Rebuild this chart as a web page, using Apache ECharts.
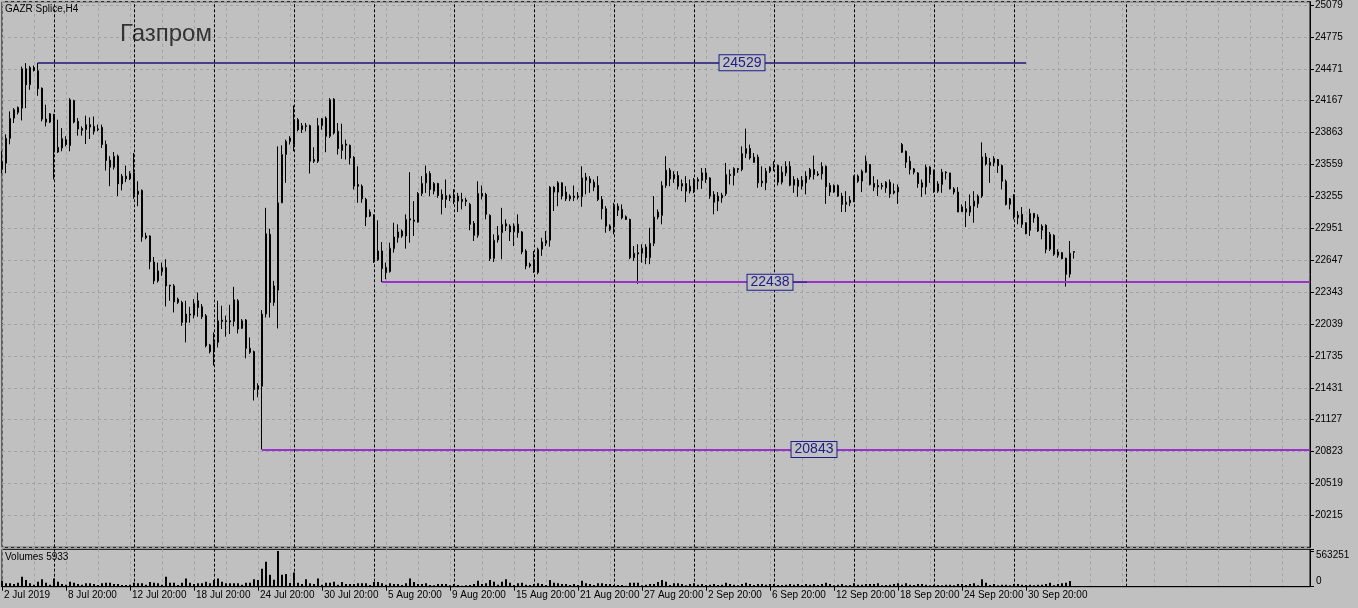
<!DOCTYPE html>
<html><head><meta charset="utf-8">
<script src="https://cdn.jsdelivr.net/npm/echarts@6/dist/echarts.min.js"></script>
<style>html,body{margin:0;padding:0;background:#c0c0c0;overflow:hidden}#c{width:1358px;height:608px}</style>
</head><body><div id="c"></div>
<script>
// ---------------- DATA ----------------
const opens = [
23514,23571,23808,24001,24055,24096,24471,24319,24483,24452,
24286,23992,23963,24034,23678,23716,23796,23739,24167,23970,
23901,23891,23939,23922,23897,23913,23749,23600,23533,23638,
23374,23448,23422,23479,23274,23312,22878,22878,22630,22450,
22538,22576,22409,22402,22244,22244,22054,22124,22124,22260,
22203,22117,21839,21792,21864,22077,22070,22070,22063,22260,
21997,22077,21807,21776,21415,21446,22134,22894,22244,22362,
23194,23654,23780,23749,23986,23891,23929,23929,23606,23590,
23929,24001,23828,24182,23875,23692,23754,23742,23628,23369,
23352,23226,23068,23068,22650,22735,22576,22538,22757,22861,
22925,22878,23042,23030,23010,23283,23384,23473,23305,23378,
23274,23226,23258,23236,23258,23226,23220,23179,22998,22884,
23283,23274,23074,22662,22840,22909,22994,22972,22918,22989,
22916,22735,22609,22640,22529,22751,22808,22837,23343,23296,
23384,23296,23232,23258,23258,23251,23438,23422,23390,23359,
23226,23137,22972,22972,23162,23131,23061,23036,22671,22719,
22713,22773,22671,22808,23058,23074,23359,23505,23422,23454,
23352,23378,23305,23321,23416,23407,23416,23431,23274,23210,
23241,23279,23464,23454,23521,23511,23663,23711,23628,23628,
23400,23384,23495,23549,23549,23390,23479,23542,23362,23410,
23352,23384,23441,23511,23469,23469,23542,23359,23296,23359,
23258,23179,23194,23220,23448,23400,23486,23559,23378,23359,
23359,23336,23390,23305,23296,23749,23685,23590,23517,23479,
23384,23346,23533,23502,23305,23369,23486,23479,23327,23296,
23109,23137,23106,23162,23184,23258,23631,23549,23574,23606,
23549,23400,23179,23248,23051,23084,23004,22932,23093,23058,
22932,22979,22751,22884,22694,22719,22666,22514,22722];
const closes = [
23590,23808,23998,24081,24103,24471,24319,24483,24455,24281,
23992,23963,24043,23678,23723,23806,23749,24176,23963,23897,
23885,23939,23916,23875,23891,23749,23597,23533,23638,23374,
23448,23422,23473,23274,23305,22868,22861,22633,22450,22545,
22576,22402,22402,22250,22276,22054,22134,22134,22234,22196,
22108,21832,21776,21864,22070,22063,22063,22058,22270,21991,
22070,21807,21769,21415,21453,22134,22899,22244,22402,23194,
23654,23780,23811,23986,23891,23929,23922,23590,23590,23929,
23996,23828,24176,23859,23711,23749,23742,23621,23352,23352,
23232,23058,23106,22650,22735,22567,22529,22761,22868,22916,
22878,23036,23030,23017,23283,23378,23473,23321,23378,23264,
23226,23264,23241,23258,23210,23207,23207,22989,22884,23283,
23258,23084,22662,22837,22884,22989,22972,22916,22972,22909,
22726,22592,22592,22545,22751,22820,22837,23343,23296,23384,
23258,23232,23258,23245,23248,23431,23410,23384,23343,23226,
23137,22972,22941,23169,23124,23051,23036,22671,22713,22706,
22761,22671,22808,23058,23106,23359,23505,23422,23464,23352,
23378,23305,23352,23400,23400,23479,23479,23258,23200,23258,
23267,23464,23454,23521,23511,23663,23711,23621,23580,23384,
23384,23495,23533,23536,23390,23486,23542,23362,23416,23352,
23410,23448,23511,23464,23460,23542,23346,23296,23359,23258,
23179,23200,23220,23448,23400,23495,23590,23369,23343,23346,
23350,23390,23279,23289,23343,23676,23580,23511,23486,23378,
23343,23533,23464,23305,23374,23486,23479,23327,23296,23106,
23156,23106,23162,23210,23258,23631,23564,23580,23616,23549,
23400,23179,23232,23058,23077,22989,22899,23093,23051,22925,
22972,22751,22894,22704,22726,22662,22514,22713,22730];
const highs = [
23685,23846,24065,24096,24112,24492,24525,24499,24502,24529,
24293,24129,24049,24043,23986,23906,23828,24191,24176,24001,
23922,24024,24008,24017,23939,23939,23787,23638,23678,23654,
23469,23549,23495,23669,23400,23321,22909,22884,22678,22624,
22624,22656,22412,22419,22291,22260,22260,22203,22276,22339,
22229,22134,21849,21959,22260,22213,22118,22222,22393,22276,
22086,22086,21911,21785,21474,22172,23146,22947,22450,23732,
23742,23796,23828,24122,24001,23954,23954,23939,23723,24001,
24001,24017,24191,24191,23954,23948,23796,23749,23638,23542,
23369,23241,23131,23084,23027,22820,22624,22814,23004,22989,
22941,23084,23486,23210,23296,23448,23549,23495,23391,23384,
23321,23416,23274,23324,23289,23289,23241,23194,23020,23400,
23359,23289,23084,22894,22972,23146,23036,22989,22998,23084,
22925,22751,22624,22735,22766,22861,22925,23352,23352,23400,
23390,23352,23274,23359,23296,23542,23479,23448,23416,23448,
23258,23162,22989,23194,23188,23179,23074,23042,22782,22799,
22799,22799,22956,23258,23131,23400,23638,23526,23495,23495,
23416,23448,23416,23431,23438,23526,23526,23438,23305,23296,
23289,23574,23511,23533,23526,23732,23901,23749,23669,23654,
23542,23526,23542,23590,23559,23542,23590,23590,23448,23431,
23448,23495,23526,23644,23495,23580,23549,23384,23369,23369,
23289,23305,23258,23454,23464,23511,23644,23564,23448,23416,
23384,23400,23416,23378,23369,23764,23692,23638,23526,23486,
23416,23559,23542,23511,23400,23517,23495,23479,23343,23343,
23179,23210,23274,23305,23274,23770,23669,23621,23638,23612,
23559,23416,23241,23276,23115,23153,23010,23137,23093,23084,
22989,22989,22916,22894,22751,22726,22671,22830,22732];
const lows = [
23476,23476,23751,23954,24036,23979,24096,24271,24445,24214,
23970,23922,23954,23416,23669,23685,23732,23685,23951,23834,
23834,23754,23802,23844,23875,23716,23502,23352,23511,23258,
23312,23391,23410,23232,23162,22823,22846,22561,22419,22434,
22498,22206,22260,22149,22229,22022,21864,22051,22092,22108,
22086,21816,21759,21643,21816,21991,21918,21944,22016,21949,
21991,21712,21754,21310,21341,20843,22101,22101,22212,21997,
23191,23384,23749,23685,23875,23859,23875,23473,23574,23574,
23891,23676,23811,23844,23654,23612,23606,23559,23321,23194,
23194,22972,23058,22621,22640,22438,22466,22529,22719,22814,
22861,22757,22814,22878,23004,23258,23289,23258,23274,23241,
23084,23146,23210,23181,23106,23131,23162,22932,22830,22861,
23226,23036,22640,22630,22814,22656,22925,22830,22782,22861,
22704,22561,22576,22526,22513,22688,22782,22776,23115,23162,
23226,23210,23210,23210,23226,23156,23274,23289,23305,23210,
23036,22909,22925,22894,23068,23036,23030,22656,22640,22422,
22624,22609,22609,22782,23036,22989,23337,23352,23384,23321,
23305,23200,23283,23286,23321,23327,23384,23232,23084,23115,
23194,23258,23369,23359,23479,23495,23621,23606,23574,23337,
23346,23314,23479,23495,23359,23369,23448,23352,23289,23251,
23321,23274,23416,23416,23448,23416,23184,23258,23289,23251,
23106,23106,23162,23200,23384,23296,23479,23359,23305,23258,
23321,23289,23241,23274,23184,23669,23526,23464,23464,23337,
23251,23274,23384,23289,23289,23289,23416,23321,23274,23106,
23106,22963,23068,23004,23146,23241,23549,23384,23542,23479,
23321,23169,23131,23036,22989,22956,22894,22878,23004,22916,
22846,22713,22735,22688,22671,22656,22396,22481,22662];
const volumes = [
95000,53000,53000,42000,63000,158000,105000,53000,32000,79000,
116000,63000,32000,131000,79000,42000,32000,79000,63000,42000,
32000,53000,53000,42000,26000,53000,63000,63000,42000,42000,
26000,26000,32000,63000,53000,53000,32000,74000,63000,53000,
32000,158000,63000,63000,26000,63000,131000,63000,42000,53000,
53000,79000,53000,105000,131000,79000,53000,53000,53000,53000,
32000,63000,63000,116000,105000,284000,395000,190000,110000,563251,
190000,200000,60000,225000,63000,42000,116000,53000,42000,131000,
32000,63000,63000,79000,32000,74000,42000,42000,42000,53000,
53000,53000,26000,74000,74000,53000,32000,53000,42000,42000,
26000,53000,131000,74000,42000,42000,53000,26000,21000,42000,
42000,42000,21000,42000,26000,16000,21000,26000,42000,95000,
42000,53000,105000,79000,32000,79000,116000,63000,26000,53000,
63000,32000,26000,42000,53000,42000,26000,105000,63000,53000,
42000,42000,26000,42000,26000,95000,53000,42000,26000,53000,
53000,42000,42000,26000,26000,26000,16000,63000,63000,63000,
21000,32000,42000,42000,74000,105000,79000,26000,53000,53000,
42000,21000,42000,53000,32000,42000,26000,32000,42000,26000,
32000,63000,42000,32000,21000,42000,63000,42000,26000,42000,
42000,32000,42000,42000,26000,26000,32000,42000,32000,42000,
26000,42000,32000,42000,26000,42000,63000,42000,21000,32000,
42000,21000,26000,53000,32000,32000,42000,42000,42000,53000,
21000,26000,32000,42000,53000,32000,53000,32000,26000,42000,
42000,32000,21000,32000,26000,21000,32000,32000,21000,42000,
42000,26000,42000,53000,21000,116000,63000,26000,42000,21000,
32000,32000,21000,42000,42000,32000,26000,32000,21000,32000,
32000,42000,63000,21000,42000,53000,63000,89000,5933];
const tickLabels = ['2 Jul 2019','8 Jul 20:00','12 Jul 20:00','18 Jul 20:00','24 Jul 20:00','30 Jul 20:00',
  '5 Aug 20:00','9 Aug 20:00','15 Aug 20:00','21 Aug 20:00','27 Aug 20:00','2 Sep 20:00','6 Sep 20:00',
  '12 Sep 20:00','18 Sep 20:00','24 Sep 20:00','30 Sep 20:00'];
const weekSeparators = [13,33,53,73,93,113,133,153,173,193,213,233,253,281];
const levelPrices = [24529, 22438, 20843];
const levelFrom = [9, 95, 65];
const levelTo = [256, 327, 327];
const symbolName = 'GAZR Splice,H4';
const chartTitle = 'Газпром';
const volumeMax = 563251;

// ---------------- LAYOUT / STYLE ----------------
const SLOTS = 328;              // visible bar slots incl. empty future area
const LABEL_STEP = 16;
const GRID_STEP = 8;
const FONT = 'Liberation Sans, Arial, sans-serif';
const BG = '#c0c0c0';
const GRIDC = '#a2a2a2';
const levelColors = ['#483d8b', '#9932cc', '#9932cc'];
const boxColor = '#1c1c8a';
const levelLabelIdx = [185, 192, 203];

const cats = Array.from({length: SLOTS}, (_, i) => String(i));
const candles = opens.map((o, i) => [o, closes[i], lows[i], highs[i]]);

const gridSplit = {show: true, interval: (i) => i % GRID_STEP === 0,
  lineStyle: {color: GRIDC, type: [3, 3], width: 1}};
const sepLine = {symbol: 'none', silent: true, label: {show: false},
  lineStyle: {color: '#000', type: [3, 2], width: 1},
  data: weekSeparators.map(i => ({xAxis: i}))};

const levelLines = levelPrices.map((p, j) => [
  {coord: [levelFrom[j], p], lineStyle: {color: levelColors[j], width: 2, type: 'solid'}},
  {coord: [levelTo[j], p]}]);

const chart = echarts.init(document.getElementById('c'), null, {renderer: 'canvas'});
const option = {
  backgroundColor: BG,
  animation: false,
  grid: [
    {left: 2, right: 48, top: 0, height: 547.3, show: true, borderColor: '#000', borderWidth: 1},
    {left: 2, right: 48, top: 549.3, height: 37.4, show: true, borderColor: '#000', borderWidth: 1}
  ],
  xAxis: [
    {type: 'category', gridIndex: 0, data: cats, boundaryGap: false,
     axisLine: {show: false}, axisTick: {show: false}, axisLabel: {show: false}, splitLine: gridSplit},
    {type: 'category', gridIndex: 1, data: cats, boundaryGap: false,
     axisLine: {show: true, lineStyle: {color: '#000'}},
     axisTick: {show: true, length: 4, interval: (i) => i % LABEL_STEP === 0 && i / LABEL_STEP < tickLabels.length, lineStyle: {color: '#000'}},
     axisLabel: {show: true, interval: (i) => i % LABEL_STEP === 0 && i / LABEL_STEP < tickLabels.length,
       formatter: (v, i) => tickLabels[Math.round(Number(v) / LABEL_STEP)] || '',
       align: 'left', margin: 4, fontSize: 10, color: '#000', fontFamily: FONT, padding: [0, 0, 0, 2]},
     splitLine: gridSplit}
  ],
  yAxis: [
    {type: 'value', gridIndex: 0, position: 'right', min: 19911, max: 25110, interval: 304,
     axisLine: {show: true, lineStyle: {color: '#000'}},
     axisTick: {show: true, length: 4, lineStyle: {color: '#000'}},
     axisLabel: {color: '#000', fontSize: 10, margin: 5, fontFamily: FONT, showMinLabel: false, showMaxLabel: false,
       formatter: (v) => String(Math.round(v))},
     splitLine: {show: true, lineStyle: {color: GRIDC, type: [3, 3], width: 1}}},
    {type: 'value', gridIndex: 1, position: 'right', min: 0, max: volumeMax * 37.4 / 35.7, interval: volumeMax,
     axisLine: {show: true, lineStyle: {color: '#000'}},
     axisTick: {show: true, length: 4, lineStyle: {color: '#000'}},
     axisLabel: {show: false}, splitLine: {show: false}}
  ],
  series: [
    {type: 'candlestick', xAxisIndex: 0, yAxisIndex: 0, data: candles, barWidth: 2,
     itemStyle: {color: '#ffffff', color0: '#000000', borderColor: '#000000', borderColor0: '#000000', borderWidth: 1},
     markLine: {symbol: 'none', silent: true, label: {show: false}, data: levelLines}},
    {type: 'line', xAxisIndex: 0, yAxisIndex: 0, data: [], markLine: sepLine},
    {type: 'bar', xAxisIndex: 1, yAxisIndex: 1, data: volumes, barWidth: 2,
     itemStyle: {color: '#000'}, markLine: sepLine}
  ]
};
chart.setOption(option);

const px = (i, v) => chart.convertToPixel({xAxisIndex: 0, yAxisIndex: 0}, [i, v]);
const vpx = (i, v) => chart.convertToPixel({xAxisIndex: 1, yAxisIndex: 1}, [i, v]);
const graphics = [
  {type: 'text', x: 5, y: 9, style: {text: symbolName, font: '10px ' + FONT, fill: '#000', verticalAlign: 'middle'}},
  {type: 'text', x: 120, y: 34, style: {text: chartTitle, font: '24px ' + FONT, fill: '#333', verticalAlign: 'middle'}},
  {type: 'text', x: 5, y: 557, style: {text: 'Volumes ' + volumes[volumes.length - 1], font: '10px ' + FONT, fill: '#000', verticalAlign: 'middle'}}
];
const topV = vpx(0, volumeMax), zeroV = vpx(0, 0);
graphics.push({type: 'text', x: 1316, y: topV[1] + 4, style: {text: String(volumeMax), font: '10px ' + FONT, fill: '#000', verticalAlign: 'middle'}});
graphics.push({type: 'text', x: 1316, y: zeroV[1] - 5, style: {text: '0', font: '10px ' + FONT, fill: '#000', verticalAlign: 'middle'}});
levelPrices.forEach((p, j) => {
  const pt = px(levelLabelIdx[j], p);
  graphics.push({type: 'text', x: pt[0], y: pt[1], z: 100,
    style: {text: String(p), font: '14px ' + FONT, fill: boxColor, align: 'center', verticalAlign: 'middle',
      backgroundColor: BG, borderColor: boxColor, borderWidth: 1, padding: [1, 3, 0, 3]}});
});
const p22 = px(levelLabelIdx[1], levelPrices[1]);
graphics.push({type: 'line', z: 99, shape: {x1: p22[0] + 22, y1: p22[1], x2: p22[0] + 37, y2: p22[1]}, style: {stroke: boxColor, lineWidth: 1}});
chart.setOption({graphic: graphics});
</script></body></html>
